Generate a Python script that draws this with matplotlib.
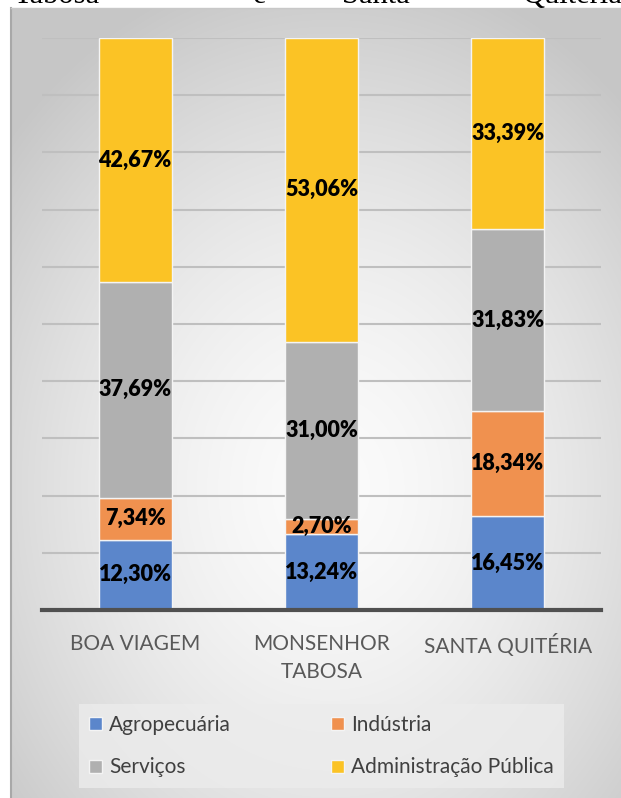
import numpy as np
import matplotlib
matplotlib.use("Agg")
import matplotlib.pyplot as plt
from matplotlib.patches import Patch
from matplotlib.lines import Line2D

# --- Dados ---
municipios = ["BOA VIAGEM", "MONSENHOR\nTABOSA", "SANTA QUITÉRIA"]
setores = ["Agropecuária", "Indústria", "Serviços", "Administração Pública"]
agropecuaria = [12.30, 13.24, 16.45]
industria = [7.34, 2.70, 18.34]
servicos = [37.69, 31.00, 31.83]
adm_publica = [42.67, 53.06, 33.39]
cores = ["#5B86CB", "#F0914F", "#B0B0B0", "#FBC325"]

W, H = 621, 798
fig = plt.figure(figsize=(W / 100, H / 100), dpi=100, facecolor="white")

# --- Fundo com gradiente radial (estilo Excel) ---
bg = fig.add_axes([10 / W, 0, 1 - 10 / W, 1 - 8 / H], zorder=-5)
yy, xx = np.mgrid[0:790, 0:611]
r = np.sqrt(((xx - 320) / 420.0) ** 2 + ((yy - 480) / 520.0) ** 2)
g = np.clip(0.985 - 0.20 * r ** 1.6, 0.78, 1.0)
bg.imshow(np.dstack([g, g, g]), aspect="auto", interpolation="bilinear")
bg.axis("off")
fig.add_artist(Line2D([11 / W, 11 / W], [0, 1 - 8 / H], color="#a8a8a8", lw=1.5))
fig.add_artist(Line2D([11 / W, 1], [1 - 8 / H, 1 - 8 / H], color="#c8c8c8", lw=1))

# texto do documento, cortado no topo como no original
for palavra, xp in [("Tabosa", 14), ("e", 253), ("Santa", 342), ("Quitéria", 523)]:
    fig.text(xp / W, 1 - 3 / H, palavra, family="Liberation Serif", fontsize=22,
             va="baseline", ha="left", color="black")

# --- Gráfico de barras empilhadas ---
ax = fig.add_axes([42 / W, 1 - 610 / H, (601 - 42) / W, (610 - 38) / H])
ax.set_facecolor("none")
x = np.arange(len(municipios))
largura = 0.39
base = np.zeros(len(municipios))
series = [agropecuaria, industria, servicos, adm_publica]
for vals, cor in zip(series, cores):
    vals = np.array(vals)
    ax.bar(x, vals, largura, bottom=base, color=cor, edgecolor="#f4f4f4",
           linewidth=1, zorder=3)
    for xi, b, v in zip(x, base, vals):
        ax.text(xi, b + v / 2, f"{v:.2f}%".replace(".", ","), ha="center",
                va="center", family="Lato", fontweight="heavy", fontsize=15.5,
                color="black", zorder=4)
    base += vals

ax.set_xlim(-0.5, 2.5)
ax.set_ylim(0, 100)
ax.set_yticks(np.arange(0, 101, 10))
ax.yaxis.grid(True, color="#bfbfbf", lw=1.5, zorder=0)
ax.tick_params(axis="y", left=False, labelleft=False)
ax.tick_params(axis="x", bottom=False, pad=14)
ax.set_xticks(x)
ax.set_xticklabels(municipios, family="Lato", fontsize=15, color="#595959",
                   linespacing=1.5)
for lado in ["left", "right", "top"]:
    ax.spines[lado].set_visible(False)
ax.spines["bottom"].set_color("#505050")
ax.spines["bottom"].set_linewidth(3)
ax.spines["bottom"].set_zorder(5)

# --- Legenda ---
handles = [Patch(facecolor=c, edgecolor="#f4f4f4", label=s) for c, s in zip(cores, setores)]
ordem = [0, 2, 1, 3]
leg = fig.legend([handles[i] for i in ordem], [setores[i] for i in ordem],
                 ncol=2, loc="center", bbox_to_anchor=((78 + 565) / 2 / W, 1 - 746 / H),
                 prop={"family": "Lato", "size": 15}, labelcolor="#404040",
                 frameon=True, fancybox=False, facecolor="#ececec", edgecolor="none",
                 framealpha=0.8, handlelength=0.6, handleheight=0.6,
                 handletextpad=0.35, columnspacing=4.8, labelspacing=1.1,
                 borderpad=0.5)

fig.savefig("out.png", dpi=100, facecolor="white")
